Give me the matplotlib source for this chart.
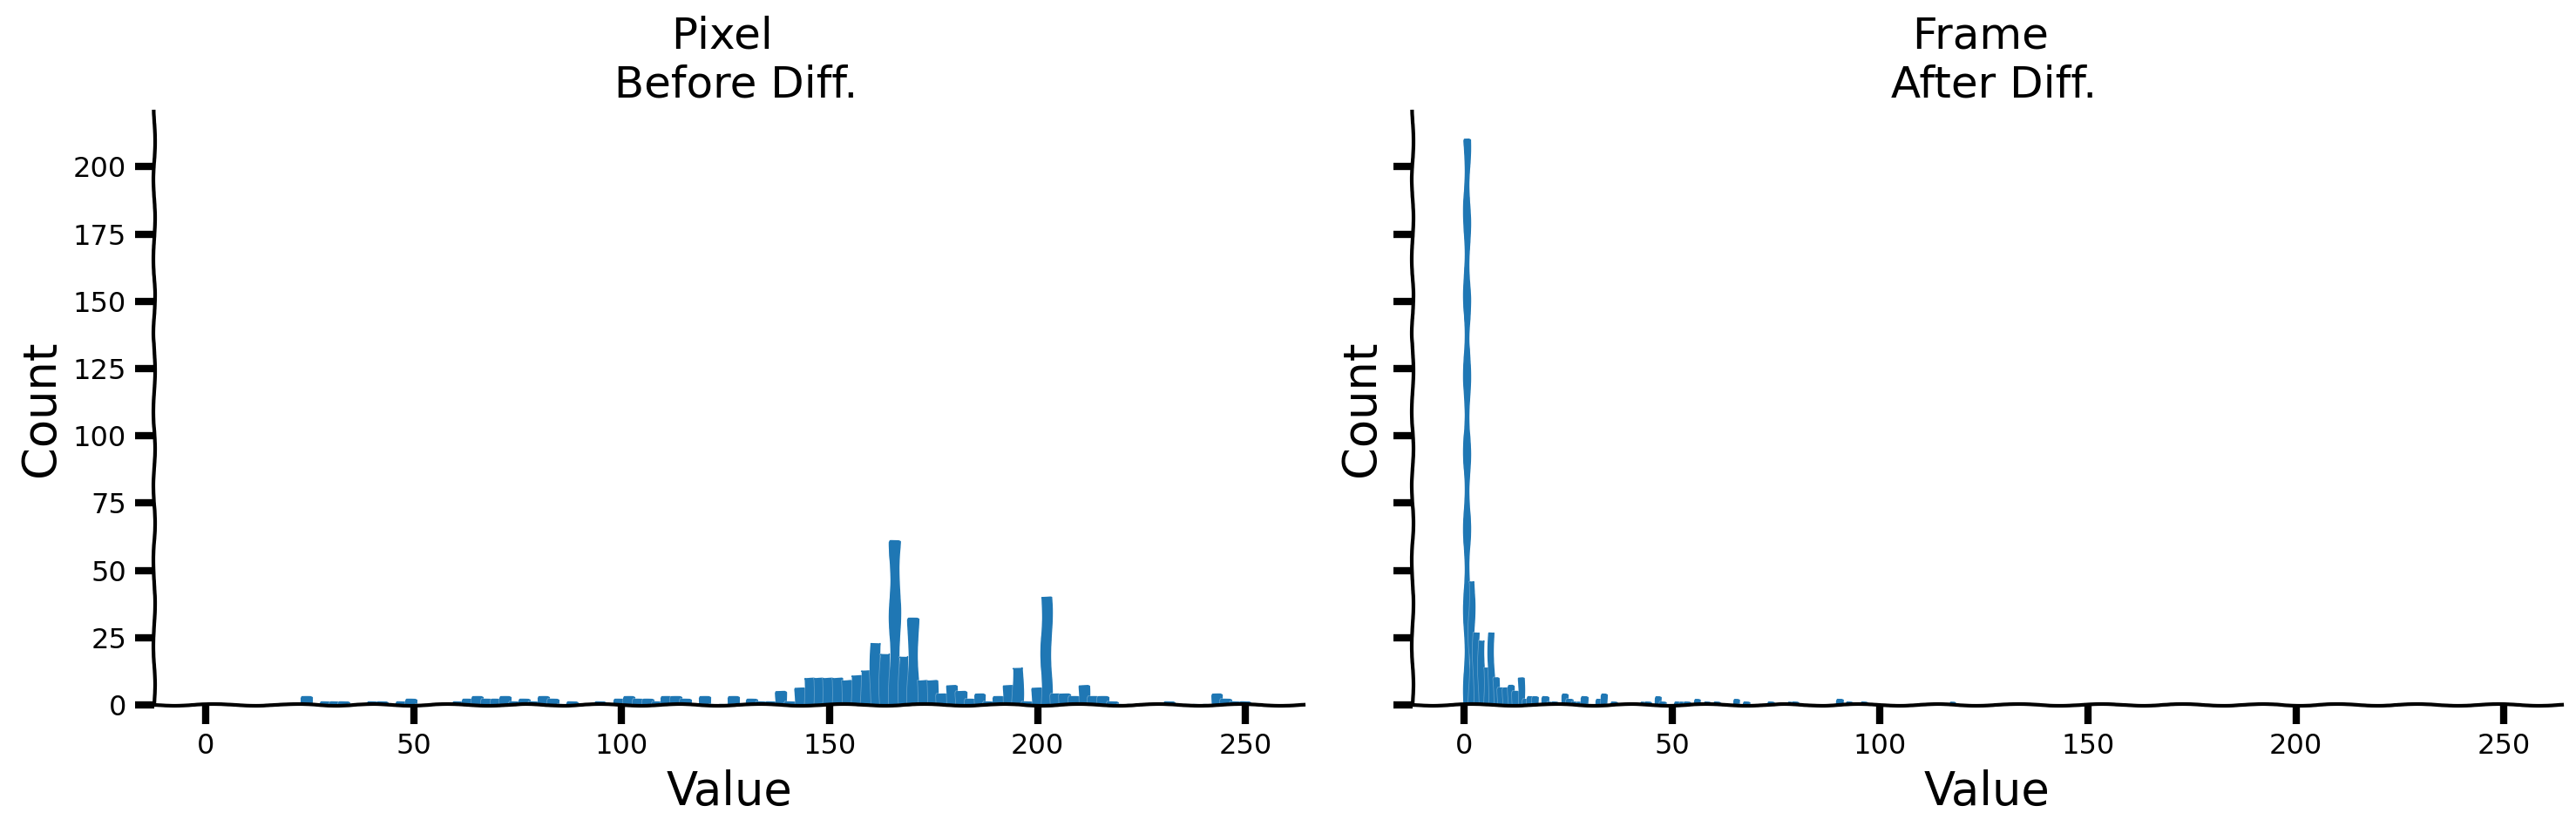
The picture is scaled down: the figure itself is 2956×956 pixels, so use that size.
import numpy as np
import matplotlib
matplotlib.use('Agg')
import matplotlib.pyplot as plt
import matplotlib.patheffects as pe

# counts per histogram bin, 100 bins each
pixel_counts = [3, 0, 1, 1, 1, 0, 0, 1, 1, 0,
                1, 2, 0, 0, 0, 0, 1, 2, 3, 2,
                2, 3, 1, 2, 1, 3, 2, 0, 1, 0,
                0, 1, 0, 2, 3, 2, 2, 1, 3, 3,
                2, 0, 3, 0, 0, 3, 0, 2, 1, 1,
                5, 1, 6, 10, 10, 10, 10, 9, 11, 13,
                23, 19, 61, 18, 32, 9, 9, 4, 7, 5,
                2, 4, 1, 3, 7, 14, 1, 6, 40, 4,
                4, 3, 7, 3, 3, 1, 0, 0, 0, 0,
                0, 1, 0, 0, 0, 0, 4, 2, 1, 1]
frame_counts = [210, 46, 27, 24, 14, 27, 10, 6, 6, 7,
                5, 10, 2, 3, 3, 0, 3, 1, 1, 0,
                4, 2, 1, 1, 3, 0, 0, 2, 4, 0,
                1, 0, 0, 0, 0, 0, 1, 1, 0, 3,
                1, 0, 0, 1, 1, 1, 0, 2, 0, 1,
                0, 1, 0, 0, 0, 2, 0, 1, 0, 0,
                0, 0, 1, 0, 0, 0, 1, 1, 0, 0,
                0, 0, 0, 0, 0, 0, 2, 0, 1, 0,
                0, 1, 0, 0, 0, 0, 0, 0, 0, 0,
                0, 0, 0, 0, 0, 0, 0, 0, 0, 1]
pixel_range = (23, 251)
frame_range = (0, 118)
titles = ['Pixel \n Before Diff.', 'Frame \n After Diff.']
xticks = [0, 50, 100, 150, 200, 250]
yticks = [0, 25, 50, 75, 100, 125, 150, 175, 200]

plt.xkcd()
plt.rcParams['font.family'] = 'DejaVu Sans'
# same sizes and wiggle as xkcd but without the white halo
plt.rcParams['path.effects'] = []

fig, axes = plt.subplots(1, 2, figsize=(14.78, 4.78), dpi=200, sharey=True)
fig.subplots_adjust(left=177/2956, right=2940/2956, bottom=1-809/956, top=1-128/956, wspace=0.0945)

for ax, counts, rng, title in zip(axes, [pixel_counts, frame_counts], [pixel_range, frame_range], titles):
    edges = np.linspace(rng[0], rng[1], len(counts) + 1)
    n, b, bars = ax.hist((edges[:-1] + edges[1:]) / 2, bins=edges, weights=counts,
                         edgecolor='C0', linewidth=0.5, joinstyle='round')
    # thin light seam between neighbouring bars
    for bar in bars:
        bar.set_path_effects([pe.withStroke(linewidth=0.7, foreground='w', alpha=0.3)])
    ax.set_title(title, fontsize=18)
    ax.set_xlabel('Value', fontsize=19)
    ax.set_ylabel('Count', fontsize=19)
    ax.set_xticks(xticks)
    ax.set_yticks(yticks)
    ax.set_xlim(-12.4, 264)
    ax.set_ylim(0, 220.5)
    ax.tick_params(labelsize=11.5)
    ax.spines['top'].set_visible(False)
    ax.spines['right'].set_visible(False)

axes[1].yaxis.set_tick_params(labelleft=False)

fig.savefig('out.png', dpi=200)
